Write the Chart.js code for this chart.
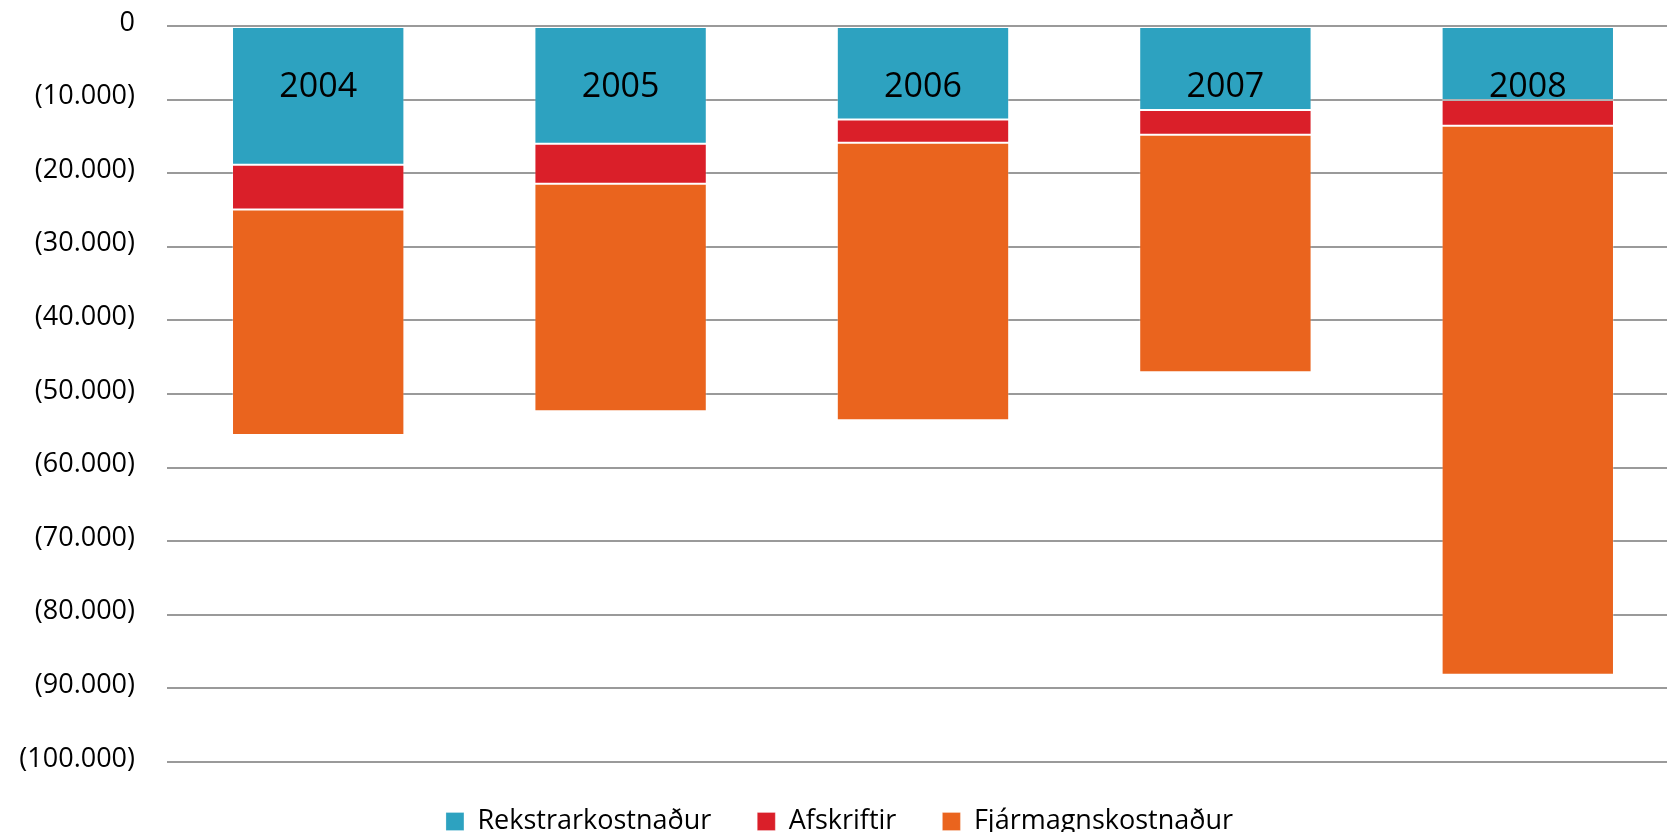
<!DOCTYPE html>
<html>
<head>
<meta charset="utf-8">
<script src="https://cdn.jsdelivr.net/npm/chart.js@4/dist/chart.umd.min.js"></script>
<style>
  html, body { margin: 0; padding: 0; background: #fff; overflow: hidden; }
  #wrap { position: absolute; left: 0; top: 0; width: 1679px; height: 845px; }
</style>
</head>
<body>
<div id="wrap"><canvas id="chart" width="1679" height="845"></canvas></div>
<script>
// ========== DATOS ==========
const years = ['2004', '2005', '2006', '2007', '2008'];
const rekstrarkostnadur = [-18850, -16000, -12700, -11400, -10050];
const afskriftir        = [-6070, -5450, -3160, -3370, -3500];
const fjarmagnskostnadur = [-30660, -30910, -37720, -32280, -74610];
const yTicks = [0, -10000, -20000, -30000, -40000, -50000, -60000, -70000, -80000, -90000, -100000];

const FONT = "'Open Sans', 'Noto Sans', sans-serif";

function fmtTick(v) {
    if (v === 0) return '0';
    const s = String(Math.abs(v)).replace(/\B(?=(\d{3})+(?!\d))/g, '.');
    return '(' + s + ')';
}

// ártöl inni í súlunum
const yearLabels = {
    id: 'yearLabels',
    afterDatasetsDraw(chart) {
        const { ctx, scales: { x, y } } = chart;
        ctx.save();
        ctx.font = '34px ' + FONT;
        ctx.fillStyle = '#000';
        ctx.textAlign = 'center';
        ctx.textBaseline = 'middle';
        years.forEach((yr, i) => {
            ctx.fillText(yr, x.getPixelForValue(i), y.getPixelForValue(-8300));
        });
        ctx.restore();
    }
};

const edge = 'rgba(255,255,255,0.25)';

new Chart(document.getElementById('chart').getContext('2d'), {
    type: 'bar',
    data: {
        labels: years,
        datasets: [
            { label: 'Rekstrarkostnaður', data: rekstrarkostnadur, backgroundColor: '#2da2c0', borderColor: edge, borderWidth: 1, borderSkipped: false },
            { label: 'Afskriftir', data: afskriftir, backgroundColor: '#da1f29', borderColor: edge, borderWidth: 1, borderSkipped: false },
            { label: 'Fjármagnskostnaður', data: fjarmagnskostnadur, backgroundColor: '#ea641e', borderColor: edge, borderWidth: 1, borderSkipped: false }
        ]
    },
    options: {
        responsive: false,
        animation: false,
        layout: { padding: { top: 26, left: 0, right: 0, bottom: 0 } },
        datasets: { bar: { categoryPercentage: 1, barPercentage: 0.57 } },
        plugins: {
            tooltip: { enabled: false },
            legend: {
                position: 'bottom',
                labels: {
                    font: { family: FONT, size: 27 },
                    color: '#000',
                    boxWidth: 18,
                    boxHeight: 18,
                    padding: 46
                }
            }
        },
        scales: {
            x: {
                stacked: true,
                display: false,
                grid: { display: false }
            },
            y: {
                stacked: true,
                min: -100000,
                max: 0,
                afterBuildTicks(scale) { scale.ticks = yTicks.map(v => ({ value: v })); },
                afterFit(scale) { scale.width = 167; scale.paddingTop = 0; scale.paddingBottom = 0; },
                border: { display: false },
                grid: { color: '#9a9a9a', lineWidth: 2, drawTicks: false },
                ticks: {
                    padding: 32,
                    labelOffset: -3,
                    color: '#000',
                    font: { family: FONT, size: 27 },
                    callback: (v) => fmtTick(v)
                }
            }
        }
    },
    plugins: [yearLabels]
});
</script>
</body>
</html>
